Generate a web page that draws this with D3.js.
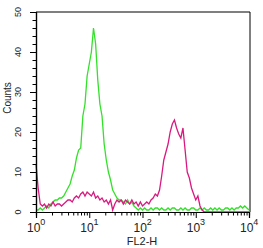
<!DOCTYPE html>
<html><head><meta charset="utf-8">
<script src="https://cdn.jsdelivr.net/npm/d3@7/dist/d3.min.js"></script>
<style>
html,body{margin:0;padding:0;background:#fff;}
svg{display:block;font-family:"Liberation Sans",Arial,sans-serif;}
</style></head>
<body>
<script>
// Histogram channels: log10(FL2-H) grid, step 0.04 decade from 10^0 to 10^4
const channelStep = 0.04;
const greenCounts = [0.5,0.5,1,0.5,1,1.5,1,2,2.5,3,3,3.5,3.5,4,5,6,7,9,10.5,13.5,15.5,16,24,27,34,37,40,46,42,33,27,24,17,13,10,8,5.5,4.5,3.5,3,3,2.5,2,3,2,2.5,1.5,1,0.5,1,0.5,1,0.5,0.5,1,0.5,1,1,0.5,1,0.5,0.5,1,0.5,1,1,0.5,0.5,1,0.5,1,0.5,0.5,1,1,0.5,0.5,1,0.5,1,0.5,0.5,1,0.5,1,0.5,1,0.5,0.5,1,1,0.5,1,0.5,1,1,1.5,1,1.5,1,0.5];
const magentaCounts = [12,6,2,1.5,2,1,2,1.5,2.5,1.5,2,2,1.5,2,2.5,3,3,2.5,3.5,4,3.5,4.5,5,4,5,4.5,4,5,3.5,4,3,3.5,2.5,3,2,3,0.5,2,3,2.5,3,2,3,2.5,2,3,2,2.5,1.5,2.5,1.5,2,2.5,2,3,3.5,4.5,4,5.5,9,13,15,17,20,22,23,21,19.5,18.5,21,15.5,10,8.5,6,4.5,3,4,1.5,0.5,0,0,0,0,0,0,0,0,0,0,0,0,0,0,0,0,0,0,0,0,0,0];
const yTicks = [0,10,20,30,40,50];
const yMinor = [2,4,6,8,12,14,16,18,22,24,26,28,32,34,36,38,42,44,46,48];
const xDecades = [0,1,2,3,4];
const xLabel = "FL2-H";
const yLabel = "Counts";

const W = 263, H = 248;
const svg = d3.select("body").append("svg").attr("width", W).attr("height", H);
const x = d3.scaleLog().domain([1, 1e4]).range([36, 249]);
const y = d3.scaleLinear().domain([0, 50]).range([212, 12]);

const chanX = i => Math.pow(10, i * channelStep);

// frame top/right
svg.append("line").attr("x1", x(1)).attr("x2", 250).attr("y1", 12).attr("y2", 12).attr("stroke", "#000").attr("stroke-width", 1.2);
svg.append("line").attr("x1", 250).attr("x2", 250).attr("y1", 12).attr("y2", 212).attr("stroke", "#000").attr("stroke-width", 1);

const line = d3.line().x((d, i) => x(chanX(i))).y(d => y(d));
svg.append("path").datum(greenCounts).attr("d", line).attr("fill", "none").attr("stroke", "#33e02a").attr("stroke-width", 1.3);
svg.append("path").datum(magentaCounts).attr("d", line).attr("fill", "none").attr("stroke", "#d81a80").attr("stroke-width", 1.3);

// Y axis
const yAx = svg.append("g").attr("transform", "translate(36,0)");
yAx.call(d3.axisLeft(y).tickValues(yTicks).tickSize(6).tickFormat(""));
yAx.append("g").call(d3.axisLeft(y).tickValues(yMinor).tickSize(3.5).tickFormat(""));
yAx.selectAll("path.domain").attr("stroke-width", 1.2);
yTicks.forEach(t => {
  svg.append("text").attr("transform", `translate(21,${y(t)}) rotate(-90)`)
    .attr("text-anchor", "middle").attr("font-size", 9).attr("fill", "#222").text(t);
});
svg.append("text").attr("transform", `translate(11,98) rotate(-90)`)
  .attr("text-anchor", "middle").attr("font-size", 10).attr("fill", "#222").text(yLabel);

// X axis
const minorX = [];
for (let d = 0; d < 4; d++) for (let m = 2; m <= 9; m++) minorX.push(m * Math.pow(10, d));
const xAx = svg.append("g").attr("transform", "translate(0,212)");
xAx.call(d3.axisBottom(x).tickValues(xDecades.map(d => Math.pow(10, d))).tickSize(6).tickFormat(""));
xAx.append("g").call(d3.axisBottom(x).tickValues(minorX).tickSize(3.5).tickFormat(""));
xAx.selectAll("path.domain").attr("stroke-width", 1.2);
xDecades.forEach(d => {
  const g = svg.append("text").attr("x", x(Math.pow(10, d)) - 9).attr("y", 232)
    .attr("font-size", 12).attr("fill", "#222");
  g.append("tspan").text("10");
  g.append("tspan").attr("dy", -7).attr("font-size", 9).text(d);
});
svg.append("text").attr("x", 142).attr("y", 245).attr("text-anchor", "middle")
  .attr("font-size", 11).attr("fill", "#222").text(xLabel);
</script>
</body></html>
